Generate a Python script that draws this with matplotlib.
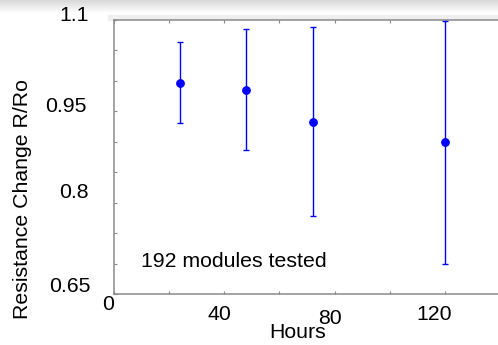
import numpy as np
import matplotlib
matplotlib.use("Agg")
import matplotlib.pyplot as plt
from matplotlib.patches import Rectangle

# data
hours = np.array([24, 48, 72, 120])
ratio = np.array([0.997, 0.985, 0.933, 0.899])
upper = np.array([1.064, 1.085, 1.089, 1.098])
lower = np.array([0.931, 0.886, 0.778, 0.700])

x_labels = ["0", "40", "80", "120"]
x_label_vals = [0, 40, 80, 120]
y_labels = ["1.1", "0.95", "0.8", "0.65"]
y_label_vals = [1.1, 0.95, 0.8, 0.65]

# label offsets in pixels (the labels sit a bit off their ticks)
x_offsets = [(-5.5, -11), (-4.5, -21), (-4.5, -24), (-11, -21)]
y_offsets = [(-24.5, 5), (-26.5, 5.3), (-24.5, 10), (-22.5, 8)]

plt.rcParams["font.family"] = ["Liberation Sans", "DejaVu Sans"]
FS = 15.3
grey = "#8a8a8a"

fig = plt.figure(figsize=(4.98, 3.45), dpi=100)
W, H = 498, 345

# window-ish gradient at the very top
top = fig.add_axes([0, 1 - 14 / H, 1, 14 / H], zorder=-5)
grad = np.linspace(0.85, 1.0, 14)[:, None] * np.ones((14, 10))
top.imshow(grad, cmap="gray", vmin=0, vmax=1, aspect="auto", interpolation="bilinear")
top.axis("off")
fig.patches.append(Rectangle((108 / W, 1 - 20 / H), 1, 5 / H, transform=fig.transFigure,
                             color="#efefef", zorder=-4))

# right edge of the box falls just outside the picture
ax = fig.add_axes([113.5 / W, 1 - 294 / H, 387 / W, 274 / H])
ax.set_xlim(0, 140)
ax.set_ylim(0.65, 1.1)

ax.errorbar(hours, ratio, yerr=[ratio - lower, upper - ratio], fmt="o", color="blue",
            ecolor="blue", elinewidth=1, capsize=2.2, capthick=1, markersize=5.3,
            clip_on=False, zorder=3)

ax.set_xticks(np.arange(0, 141, 20))
ax.set_yticks(np.arange(0.65, 1.1001, 0.05))
ax.set_xticklabels([])
ax.set_yticklabels([])
ax.tick_params(direction="in", length=2.3, width=0.8, color=grey,
               top=True, right=True, bottom=True, left=True)
ax.tick_params(axis="x", top=True, bottom=True)
ax.tick_params(axis="y", right=True)
for s in ax.spines.values():
    s.set_color(grey)
    s.set_linewidth(1.1)
ax.spines["right"].set_visible(False)

for lab, v, (dx, dy) in zip(x_labels, x_label_vals, x_offsets):
    ax.annotate(lab, xy=(v, 0), xycoords=("data", "axes fraction"), xytext=(dx, dy),
                textcoords="offset pixels", ha="center", va="center", fontsize=FS)
for lab, v, (dx, dy) in zip(y_labels, y_label_vals, y_offsets):
    ax.annotate(lab, xy=(0, v), xycoords=("axes fraction", "data"), xytext=(dx, dy),
                textcoords="offset pixels", ha="right", va="center", fontsize=FS)

ax.text(10, 0.703, "192 modules tested", ha="left", va="center", fontsize=FS)

fig.text(297.5 / W, 1 - 333 / H, "Hours", ha="center", va="center", fontsize=FS)
fig.text(23 / W, 1 - 199 / H, "Resistance Change R/Ro", rotation=90,
         ha="center", va="center", fontsize=FS)

fig.savefig("out.png", dpi=100)
